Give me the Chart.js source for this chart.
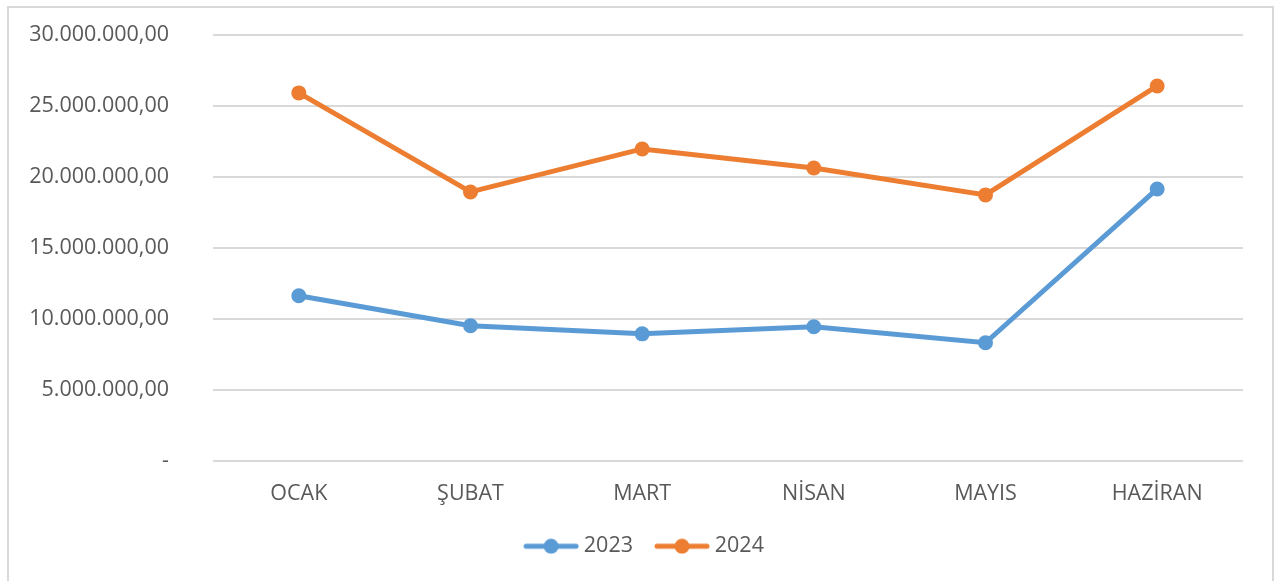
<!DOCTYPE html>
<html>
<head>
<meta charset="utf-8">
<script src="https://cdn.jsdelivr.net/npm/chart.js@4.4.1/dist/chart.umd.min.js"></script>
<style>
  html, body { margin: 0; padding: 0; background: #fff; }
  #frame {
    position: absolute; left: 7px; top: 6px; width: 1263px; height: 600px;
    border: 2px solid #d9d9d9;
  }
  #wrap { position: absolute; left: 0; top: 0; width: 1276px; height: 581px; }
</style>
</head>
<body>
<div id="frame"></div>
<div id="wrap"><canvas id="chart"></canvas></div>
<script>
const months = ["OCAK", "ŞUBAT", "MART", "NİSAN", "MAYIS", "HAZİRAN"];
const sales2023 = [11620000, 9510000, 8940000, 9440000, 8310000, 19150000];
const sales2024 = [25920000, 18940000, 21970000, 20630000, 18730000, 26410000];

const blue = "#5b9bd5";
const orange = "#ed7d31";
const textColor = "#595959";
const fontFamily = "'Open Sans', sans-serif";
const fontSize = 21.5;

// legend marker: line with a dot on it
function legendMarker(color) {
  const c = document.createElement("canvas");
  c.width = 56;
  c.height = 16;
  const ctx = c.getContext("2d");
  ctx.strokeStyle = color;
  ctx.lineWidth = 5;
  ctx.lineCap = "round";
  ctx.beginPath();
  ctx.moveTo(3, 8);
  ctx.lineTo(53, 8);
  ctx.stroke();
  ctx.fillStyle = color;
  ctx.beginPath();
  ctx.arc(28, 8, 7.5, 0, Math.PI * 2);
  ctx.fill();
  return c;
}

// 25000000 -> "25.000.000,00", 0 -> "-"
function trFormat(v) {
  if (v === 0) return "-";
  const parts = Math.round(v).toString().replace(/\B(?=(\d{3})+(?!\d))/g, ".");
  return parts + ",00";
}

new Chart(document.getElementById("chart"), {
  type: "line",
  data: {
    labels: months,
    datasets: [
      {
        label: "2023",
        data: sales2023,
        borderColor: blue,
        backgroundColor: blue,
        borderWidth: 5,
        pointRadius: 7.5,
        pointHoverRadius: 7.5,
        pointBorderWidth: 0,
        tension: 0,
      },
      {
        label: "2024",
        data: sales2024,
        borderColor: orange,
        backgroundColor: orange,
        borderWidth: 5,
        pointRadius: 7.5,
        pointHoverRadius: 7.5,
        pointBorderWidth: 0,
        tension: 0,
      },
    ],
  },
  options: {
    responsive: true,
    maintainAspectRatio: false,
    animation: false,
    events: [],
    layout: {
      padding: { left: 17, right: 0, top: 35, bottom: 14 },
    },
    scales: {
      x: {
        offset: true,
        grid: { display: false },
        border: { display: false },
        afterFit: function (scale) {
          scale.height -= 10;
        },
        ticks: {
          color: textColor,
          font: { family: fontFamily, size: fontSize },
          padding: 12,
          maxRotation: 0,
        },
      },
      y: {
        min: 0,
        max: 30000000,
        afterFit: function (scale) {
          scale.width = 196;
        },
        // invisible tick marks make the gap between labels and plot
        grid: {
          color: "#d9d9d9",
          lineWidth: 2,
          drawTicks: true,
          tickLength: 44,
          tickColor: "rgba(0,0,0,0)",
        },
        border: { display: false },
        ticks: {
          stepSize: 5000000,
          color: textColor,
          font: { family: fontFamily, size: fontSize },
          padding: 0,
          callback: function (v) {
            return trFormat(v);
          },
        },
      },
      // empty right axis, only keeps space on the right of the plot
      yRight: {
        position: "right",
        grid: { display: false },
        border: { display: false },
        ticks: { display: false },
        afterFit: function (scale) {
          scale.width = 33;
        },
      },
    },
    plugins: {
      legend: {
        position: "bottom",
        labels: {
          usePointStyle: true,
          pointStyleWidth: 44,
          padding: 27,
          color: textColor,
          font: { family: fontFamily, size: fontSize },
          generateLabels: function (chart) {
            return chart.data.datasets.map(function (ds, i) {
              return {
                text: ds.label,
                pointStyle: legendMarker(ds.borderColor),
                fontColor: textColor,
                strokeStyle: ds.borderColor,
                fillStyle: ds.borderColor,
                lineWidth: 0,
                datasetIndex: i,
                hidden: false,
              };
            });
          },
        },
      },
      tooltip: { enabled: false },
    },
  },
});
</script>
</body>
</html>
